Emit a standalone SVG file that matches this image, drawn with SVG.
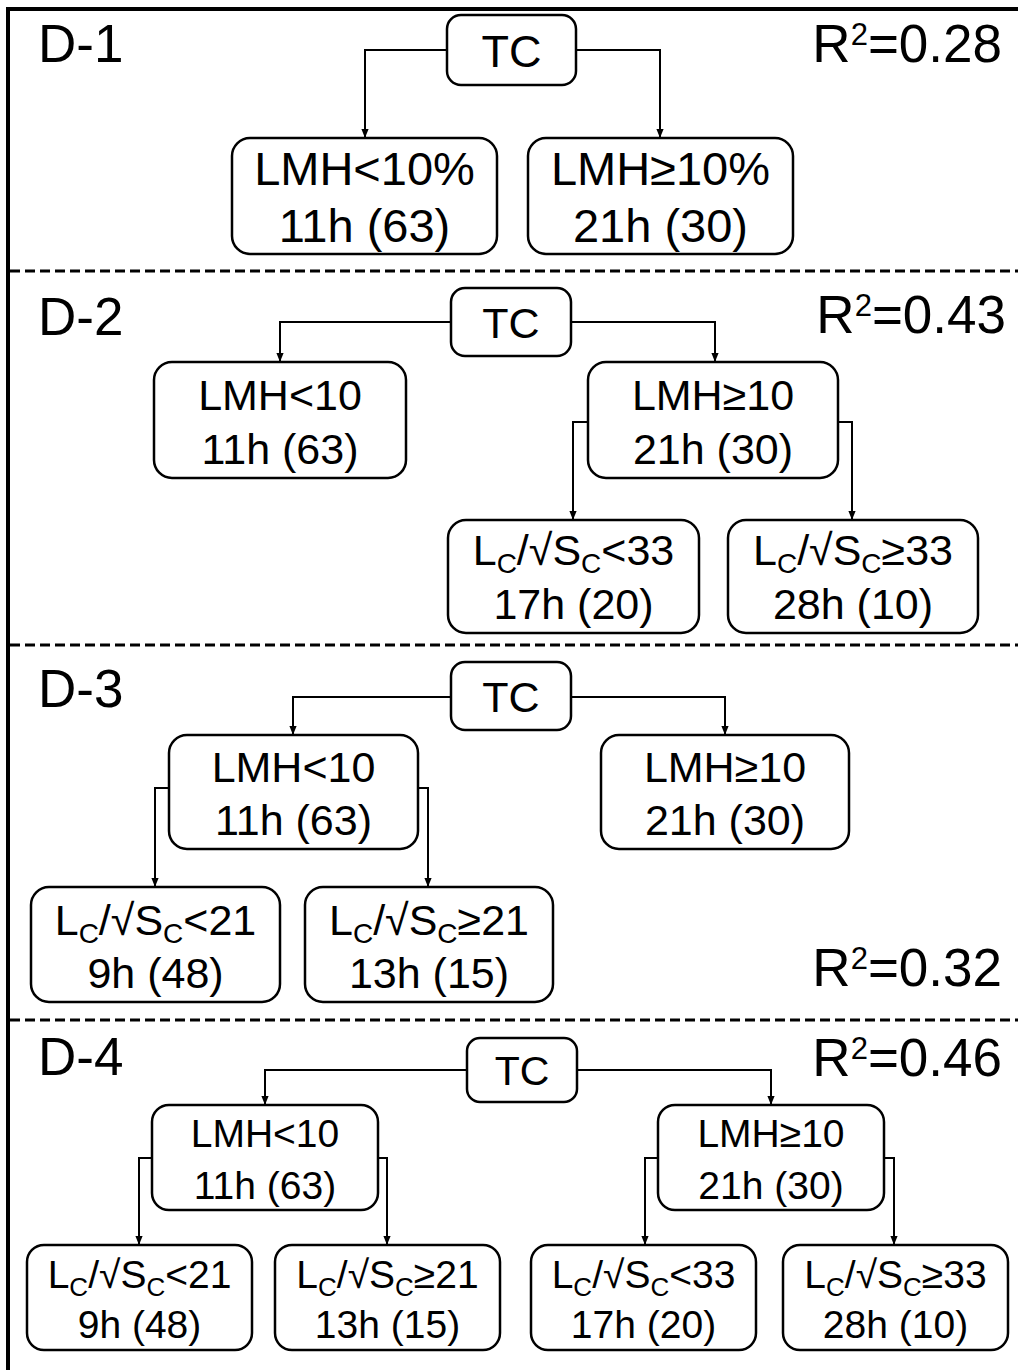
<svg xmlns="http://www.w3.org/2000/svg" width="1018" height="1370" viewBox="0 0 1018 1370">
<defs>
<marker id="ah" viewBox="0 0 10 10" refX="10" refY="5" markerWidth="9" markerHeight="9" markerUnits="userSpaceOnUse" orient="auto">
<path d="M0,1 L10,5 L0,9 Z" fill="#000"/>
</marker>
</defs>
<style>
.bx{fill:#fff;stroke:#000;stroke-width:2.5}
.t{font-family:"Liberation Sans",Arial,sans-serif;fill:#000;text-anchor:middle}
.l{font-family:"Liberation Sans",Arial,sans-serif;fill:#000;font-size:53px}
.c{fill:none;stroke:#000;stroke-width:2;marker-end:url(#ah)}
.d{stroke:#000;stroke-width:3;stroke-dasharray:10 5;fill:none}
.s1{font-size:47px}.s2{font-size:43px}.s4{font-size:39px}
.tc1{font-size:45px}.tc4{font-size:41px}
</style>
<rect width="1018" height="1370" fill="#fff"/>
<g id="frame">
<path d="M8,1370 V9 H1018" fill="none" stroke="#000" stroke-width="4"/>
<line class="d" x1="10" y1="271" x2="1018" y2="271"/>
<line class="d" x1="10" y1="645" x2="1018" y2="645"/>
<line class="d" x1="10" y1="1020" x2="1018" y2="1020"/>
</g>
<g id="labels">
<text class="l" x="38" y="62">D-1</text>
<text class="l" x="38" y="335">D-2</text>
<text class="l" x="38" y="707">D-3</text>
<text class="l" x="38" y="1075">D-4</text>
<text class="l" x="1002" y="62" text-anchor="end">R<tspan font-size="31" dy="-17">2</tspan><tspan dy="17">=0.28</tspan></text>
<text class="l" x="1006" y="333" text-anchor="end">R<tspan font-size="31" dy="-17">2</tspan><tspan dy="17">=0.43</tspan></text>
<text class="l" x="1002" y="986" text-anchor="end">R<tspan font-size="31" dy="-17">2</tspan><tspan dy="17">=0.32</tspan></text>
<text class="l" x="1002" y="1076" text-anchor="end">R<tspan font-size="31" dy="-17">2</tspan><tspan dy="17">=0.46</tspan></text>
</g>
<g id="connectors">
<path class="c" d="M447,50 H365 V138"/>
<path class="c" d="M576,50 H660 V138"/>
<path class="c" d="M451,322 H280 V362"/>
<path class="c" d="M571,322 H715 V362"/>
<path class="c" d="M588,422 H573 V520"/>
<path class="c" d="M838,422 H852 V520"/>
<path class="c" d="M451,697 H293 V735"/>
<path class="c" d="M571,697 H725 V735"/>
<path class="c" d="M169,788 H155 V887"/>
<path class="c" d="M418,788 H428 V887"/>
<path class="c" d="M467,1070 H265 V1105"/>
<path class="c" d="M577,1070 H771 V1105"/>
<path class="c" d="M152,1158 H139 V1245"/>
<path class="c" d="M378,1158 H387 V1245"/>
<path class="c" d="M658,1158 H645 V1245"/>
<path class="c" d="M884,1158 H894 V1245"/>
</g>
<g id="d1-tc"><rect class="bx" x="447" y="15" width="129" height="70" rx="14"/><text class="t tc1" x="511.5" y="67">TC</text></g>
<g id="d1-lmh-lt"><rect class="bx" x="232" y="138" width="265" height="116" rx="18"/><text class="t s1" x="364.5" y="185">LMH&lt;10%</text><text class="t s1" x="364.5" y="242">11h (63)</text></g>
<g id="d1-lmh-ge"><rect class="bx" x="528" y="138" width="265" height="116" rx="18"/><text class="t s1" x="660.5" y="185">LMH≥10%</text><text class="t s1" x="660.5" y="242">21h (30)</text></g>

<g id="d2-tc"><rect class="bx" x="451" y="288" width="120" height="68" rx="14"/><text class="t s2" x="511" y="338">TC</text></g>
<g id="d2-lmh-lt"><rect class="bx" x="154" y="362" width="252" height="116" rx="18"/><text class="t s2" x="280" y="410">LMH&lt;10</text><text class="t s2" x="280" y="464">11h (63)</text></g>
<g id="d2-lmh-ge"><rect class="bx" x="588" y="362" width="250" height="116" rx="18"/><text class="t s2" x="713" y="410">LMH≥10</text><text class="t s2" x="713" y="464">21h (30)</text></g>
<g id="d2-lc-lt"><rect class="bx" x="448" y="520" width="251" height="113" rx="18"/><text class="t s2" x="573.5" y="565">L<tspan font-size="28" dy="8">C</tspan><tspan dy="-8">/√S</tspan><tspan font-size="28" dy="8">C</tspan><tspan dy="-8">&lt;33</tspan></text><text class="t s2" x="573.5" y="619">17h (20)</text></g>
<g id="d2-lc-ge"><rect class="bx" x="728" y="520" width="250" height="113" rx="18"/><text class="t s2" x="853" y="565">L<tspan font-size="28" dy="8">C</tspan><tspan dy="-8">/√S</tspan><tspan font-size="28" dy="8">C</tspan><tspan dy="-8">≥33</tspan></text><text class="t s2" x="853" y="619">28h (10)</text></g>

<g id="d3-tc"><rect class="bx" x="451" y="662" width="120" height="68" rx="14"/><text class="t s2" x="511" y="712">TC</text></g>
<g id="d3-lmh-lt"><rect class="bx" x="169" y="735" width="249" height="114" rx="18"/><text class="t s2" x="293.5" y="782">LMH&lt;10</text><text class="t s2" x="293.5" y="835">11h (63)</text></g>
<g id="d3-lmh-ge"><rect class="bx" x="601" y="735" width="248" height="114" rx="18"/><text class="t s2" x="725" y="782">LMH≥10</text><text class="t s2" x="725" y="835">21h (30)</text></g>
<g id="d3-lc-lt"><rect class="bx" x="31" y="887" width="249" height="115" rx="18"/><text class="t s2" x="155.5" y="935">L<tspan font-size="28" dy="8">C</tspan><tspan dy="-8">/√S</tspan><tspan font-size="28" dy="8">C</tspan><tspan dy="-8">&lt;21</tspan></text><text class="t s2" x="155.5" y="988">9h (48)</text></g>
<g id="d3-lc-ge"><rect class="bx" x="305" y="887" width="248" height="115" rx="18"/><text class="t s2" x="429" y="935">L<tspan font-size="28" dy="8">C</tspan><tspan dy="-8">/√S</tspan><tspan font-size="28" dy="8">C</tspan><tspan dy="-8">≥21</tspan></text><text class="t s2" x="429" y="988">13h (15)</text></g>

<g id="d4-tc"><rect class="bx" x="467" y="1038" width="110" height="64" rx="13"/><text class="t tc4" x="522" y="1085">TC</text></g>
<g id="d4-lmh-lt"><rect class="bx" x="152" y="1105" width="226" height="105" rx="17"/><text class="t s4" x="265" y="1147">LMH&lt;10</text><text class="t s4" x="265" y="1199">11h (63)</text></g>
<g id="d4-lmh-ge"><rect class="bx" x="658" y="1105" width="226" height="105" rx="17"/><text class="t s4" x="771" y="1147">LMH≥10</text><text class="t s4" x="771" y="1199">21h (30)</text></g>
<g id="d4-lc-lt21"><rect class="bx" x="27" y="1245" width="225" height="105" rx="17"/><text class="t s4" x="139.5" y="1288">L<tspan font-size="26" dy="8">C</tspan><tspan dy="-8">/√S</tspan><tspan font-size="26" dy="8">C</tspan><tspan dy="-8">&lt;21</tspan></text><text class="t s4" x="139.5" y="1338">9h (48)</text></g>
<g id="d4-lc-ge21"><rect class="bx" x="275" y="1245" width="225" height="105" rx="17"/><text class="t s4" x="387.5" y="1288">L<tspan font-size="26" dy="8">C</tspan><tspan dy="-8">/√S</tspan><tspan font-size="26" dy="8">C</tspan><tspan dy="-8">≥21</tspan></text><text class="t s4" x="387.5" y="1338">13h (15)</text></g>
<g id="d4-lc-lt33"><rect class="bx" x="531" y="1245" width="225" height="105" rx="17"/><text class="t s4" x="643.5" y="1288">L<tspan font-size="26" dy="8">C</tspan><tspan dy="-8">/√S</tspan><tspan font-size="26" dy="8">C</tspan><tspan dy="-8">&lt;33</tspan></text><text class="t s4" x="643.5" y="1338">17h (20)</text></g>
<g id="d4-lc-ge33"><rect class="bx" x="783" y="1245" width="225" height="105" rx="17"/><text class="t s4" x="895.5" y="1288">L<tspan font-size="26" dy="8">C</tspan><tspan dy="-8">/√S</tspan><tspan font-size="26" dy="8">C</tspan><tspan dy="-8">≥33</tspan></text><text class="t s4" x="895.5" y="1338">28h (10)</text></g>
</svg>
